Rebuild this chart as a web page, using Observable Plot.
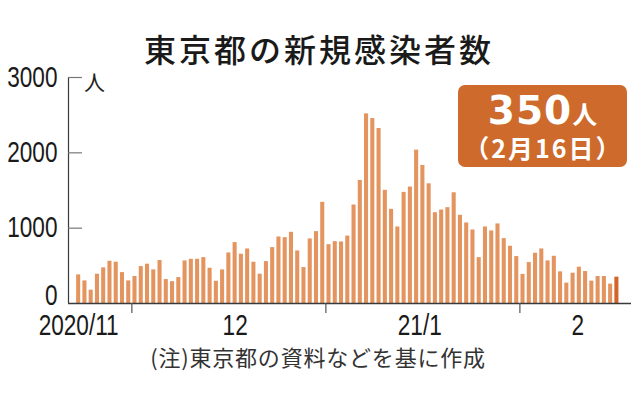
<!DOCTYPE html>
<html><head><meta charset="utf-8">
<script src="https://cdn.jsdelivr.net/npm/d3@7"></script>
<script src="https://cdn.jsdelivr.net/npm/@observablehq/plot@0.6"></script>
<style>
body{margin:0;background:#fff;}
#wrap{position:relative;width:638px;height:396px;overflow:hidden;background:#fff;font-family:"Noto Sans CJK JP",sans-serif;}
#wrap svg{position:absolute;left:0;top:0;}
.title{position:absolute;left:0;width:638px;top:25px;text-align:center;font-size:32px;font-weight:500;letter-spacing:3px;color:#1a1a1a;line-height:46px;}
.unit{position:absolute;left:84px;top:67px;font-size:21px;color:#222;line-height:28px;}
.caption{position:absolute;left:0;width:636px;top:341px;text-align:center;font-size:22px;letter-spacing:0.8px;color:#333;line-height:30px;}
.badge{position:absolute;left:458px;top:85px;width:169px;height:82px;border-radius:7px;background:#CD6A2C;color:#fff;}
.badge .big{position:absolute;left:0;width:169px;top:8px;height:36px;text-align:center;line-height:36px;font-family:"DejaVu Sans",sans-serif;font-weight:700;font-size:39px;letter-spacing:1px;}
.badge .big span{font-family:"Noto Sans CJK JP",sans-serif;font-size:25px;letter-spacing:0;}
.badge .sub{position:absolute;left:0;width:169px;top:47px;height:30px;text-align:center;line-height:30px;font-weight:700;font-size:25px;letter-spacing:2px;text-indent:2px;}
</style>
</head><body>
<div id="wrap"></div>
<script>
// ---- data ----
const titleText = "東京都の新規感染者数";
const captionText = "(注)東京都の資料などを基に作成";
const unitText = "人";
const startDate = "2020-11-22";
const lastDateLabel = "（2月16日）";
const cases = [
  // Nov 22-30
  380, 300, 177, 389, 473, 561, 548, 410, 300,
  // Dec 1-31
  358, 490, 522, 446, 570, 318, 290, 344, 565, 587, 587, 609, 468, 295, 446, 671,
  808, 654, 724, 548, 389, 556, 742, 883, 874, 945, 698, 477, 857, 954, 1343,
  // Jan 1-31
  781, 821, 817, 895, 1307, 1634, 2517, 2455, 2323, 1502, 1250, 1016, 1475, 1546, 2036, 1833,
  1589, 1205, 1241, 1272, 1470, 1171, 1069, 976, 609, 1016, 963, 1056, 861, 760, 623,
  // Feb 1-16
  386, 543, 667, 724, 565, 627, 420, 270, 402, 482, 424, 297, 358, 358, 257, 350
];
const yTicks = [0, 1000, 2000, 3000];
const monthTicks = ["2020-12-01", "2021-01-01", "2021-02-01"];
const xLabelDates = ["2020-11-22T12:00Z", "2020-12-17T12:00Z", "2021-01-16T00:00Z", "2021-02-10T06:00Z"];
const xLabels = ["2020/11", "12", "21/1", "2"];
const xDomain = ["2020-11-20T21:00Z", "2021-02-18T20:00Z"];

// ---- build ----
const start = new Date(startDate + "T00:00Z");
const rows = cases.map((v, i) => ({
  d0: d3.utcDay.offset(start, i),
  d1: d3.utcDay.offset(start, i + 1),
  v,
  last: i === cases.length - 1
}));
const xd = xDomain.map(s => new Date(s));
const labelMap = new Map(xLabelDates.map((s, i) => [+new Date(s), xLabels[i]]));
const numFont = '"Liberation Sans",Arial,sans-serif';

const chart = Plot.plot({
  width: 638, height: 396,
  marginLeft: 68, marginRight: 7, marginTop: 77, marginBottom: 93,
  x: {type: "utc", domain: xd},
  y: {domain: [0, 3000]},
  style: {background: "transparent"},
  marks: [
    Plot.rectY(rows, {x1: "d0", x2: "d1", y: "v", insetLeft: 1.1, insetRight: 1.1,
      fill: d => d.last ? "#D2652A" : "#E3945F"}),
    Plot.ruleY([0], {stroke: "#3a3a3a", strokeWidth: 1.4}),
    Plot.ruleX([xd[0]], {y1: 0, y2: 3000, stroke: "#3a3a3a", strokeWidth: 1.2}),
    Plot.axisY({ticks: yTicks.slice(1), tickSize: -14, text: null, label: null, stroke: "#777", strokeWidth: 1.2}),
    Plot.axisY({ticks: yTicks.slice(1), tickSize: 0, tickPadding: 11, tickFormat: d => String(d), label: null,
      fontSize: 29, fontFamily: numFont, fill: "#1a1a1a"}),
    Plot.axisY({ticks: [0], tickSize: 0, tickPadding: 11, tickFormat: d => String(d), dy: -8, label: null,
      fontSize: 29, fontFamily: numFont, fill: "#1a1a1a"}),
    Plot.axisX({ticks: monthTicks.map(s => new Date(s + "T00:00Z")), tickSize: 10, text: null, label: null, stroke: "#555", strokeWidth: 1.2}),
    Plot.axisX({ticks: xLabelDates.map(s => new Date(s)), tickSize: 0, tickPadding: 11, label: null,
      tickFormat: d => labelMap.get(+d), fontSize: 29, fontFamily: numFont, fill: "#1a1a1a"})
  ]
});

// condense the numeric tick labels horizontally (narrow gothic look)
const condense = 0.78;
chart.querySelectorAll('g[aria-label="y-axis tick label"] text, g[aria-label="x-axis tick label"] text').forEach(t => {
  const tr = t.getAttribute("transform");
  if (tr) {
    t.setAttribute("transform", tr + ` scale(${condense},1)`);
  } else {
    const x = +t.getAttribute("x") || 0;
    t.setAttribute("transform", `translate(${x},0) scale(${condense},1) translate(${-x},0)`);
  }
});

const wrap = document.getElementById("wrap");
wrap.appendChild(chart);
const add = (cls, html) => { const el = document.createElement("div"); el.className = cls; el.innerHTML = html; wrap.appendChild(el); return el; };
add("title", titleText);
add("unit", unitText);
add("caption", captionText);
const last = cases[cases.length - 1];
add("badge", `<div class="big">${last}<span>${unitText}</span></div><div class="sub">${lastDateLabel}</div>`);
</script>
</body></html>
